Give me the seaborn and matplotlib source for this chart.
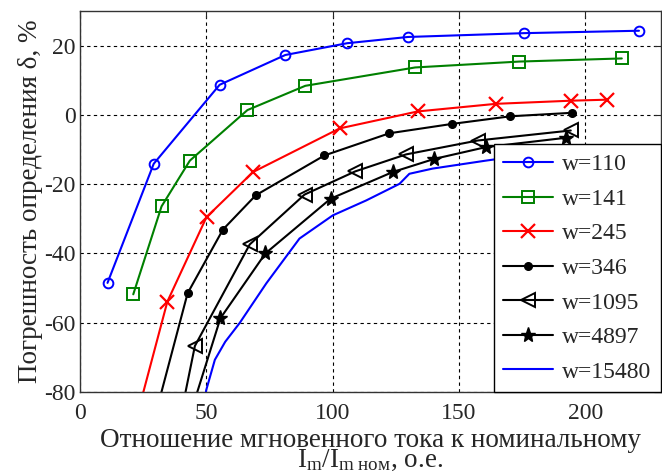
import numpy as np
import pandas as pd
import matplotlib
matplotlib.use('Agg')
import matplotlib.pyplot as plt
import seaborn as sns

# curves, x = Im/Im.nom, y = error, %
x_110 = [10.9, 29.2, 55.3, 81.3, 105.8, 129.8, 175.6, 221.3]
y_110 = [-48.5, -14.1, 8.7, 17.3, 20.7, 22.5, 23.6, 24.3]

x_141 = [21.1, 32.3, 43.5, 66.3, 89.2, 132.7, 173.9, 214.5]
y_141 = [-51.8, -26.4, -13.2, 1.4, 8.4, 13.7, 15.4, 16.3]

x_245 = [20.0, 34.6, 50.1, 68.5, 102.8, 133.7, 164.7, 194.3, 208.8]
y_245 = [-94.0, -53.9, -29.5, -16.5, -3.9, 1.0, 3.2, 4.1, 4.4]

x_346 = [29.0, 42.6, 56.6, 69.6, 96.8, 122.5, 147.3, 170.4, 194.6]
y_346 = [-89.0, -51.5, -33.1, -23.2, -11.7, -5.3, -2.6, -0.4, 0.6]

x_1095 = [39.0, 45.5, 67.2, 88.9, 109.0, 129.1, 157.4, 194.3]
y_1095 = [-90.0, -66.7, -37.4, -23.0, -16.3, -11.4, -7.4, -4.5]

x_4897 = [43.0, 55.6, 73.4, 99.2, 123.8, 140.3, 160.7, 192.4]
y_4897 = [-88.0, -58.7, -40.0, -24.2, -16.5, -12.7, -9.3, -6.6]

x_15480 = [48.0, 50.0, 53.4, 57.5, 63.2, 73.8, 86.9, 100.1, 113.3, 126.5, 130.4, 139.6, 160.7, 198.9, 211.5]
y_15480 = [-87.0, -79.4, -70.7, -65.5, -60.1, -48.6, -35.7, -29.0, -24.7, -19.9, -17.0, -15.5, -13.2, -9.3, -8.8]

labels = ['w=110', 'w=141', 'w=245', 'w=346', 'w=1095', 'w=4897', 'w=15480']

sns.set_style('white')
plt.rcParams['font.family'] = ['Liberation Serif', 'DejaVu Serif']
plt.rcParams['mathtext.fontset'] = 'custom'
plt.rcParams['mathtext.rm'] = 'Liberation Serif'
plt.rcParams['mathtext.it'] = 'Liberation Serif:italic'
plt.rcParams['axes.unicode_minus'] = False

fig = plt.figure(figsize=(6.62, 4.74), dpi=100)
ax = fig.add_axes([0.1208, 0.173, 0.8776, 0.8038])

series = [
    (x_110, y_110, dict(color='#0000ff', marker='o', mfc='none', mec='#0000ff', ms=7, mew=1.4)),
    (x_141, y_141, dict(color='#008000', marker='s', mfc='none', mec='#008000', ms=8, mew=1.4)),
    (x_245, y_245, dict(color='#ff0000', marker='x', mec='#ff0000', ms=10, mew=1.6)),
    (x_346, y_346, dict(color='black', marker='o', mfc='black', mec='black', ms=5.5, mew=1)),
    (x_1095, y_1095, dict(color='black', marker='<', mfc='none', mec='black', ms=10, mew=1.4)),
    (x_4897, y_4897, dict(color='black', marker='*', mfc='black', mec='black', ms=11, mew=1)),
    (x_15480, y_15480, dict(color='#0000ff')),
]

for (xs, ys, st), lab in zip(series, labels):
    df = pd.DataFrame({'x': xs, 'y': ys})
    sns.lineplot(data=df, x='x', y='y', ax=ax, sort=False, lw=1.5, label=lab, **st)

ax.set_xlim(0, 230)
ax.set_ylim(-80, 30)
ax.set_xticks([0, 50, 100, 150, 200])
ax.set_yticks([-80, -60, -40, -20, 0, 20])
ax.grid(True, color='black', linestyle=(0, (3, 3)), linewidth=0.8)
ax.tick_params(direction='in', length=5, labelsize=17, top=True, right=True)
ax.tick_params(axis='x', pad=8)
ax.tick_params(axis='y', pad=3)
for s in ax.spines.values():
    s.set_color('#333333')
    s.set_linewidth(1.0)

ax.set_ylabel('Погрешность определения δ, %', fontsize=19.5, labelpad=1)
ax.set_xlabel('Отношение мгновенного тока к номинальному\n'
              r'$\mathrm{I_m/I_{m\ ном}}$, о.е.', fontsize=19.5, linespacing=0.72, va='top')
ax.xaxis.set_label_coords(0.5, -0.095)

leg = ax.legend(loc='lower right', bbox_to_anchor=(1.0, 0.0), borderaxespad=0,
                fontsize=17, frameon=True, fancybox=False, edgecolor='black',
                framealpha=1, handlelength=2.1, labelspacing=0.55, borderpad=0.4,
                handletextpad=0.4)
leg.get_frame().set_linewidth(1.0)

fig.savefig('out.png', dpi=100)
